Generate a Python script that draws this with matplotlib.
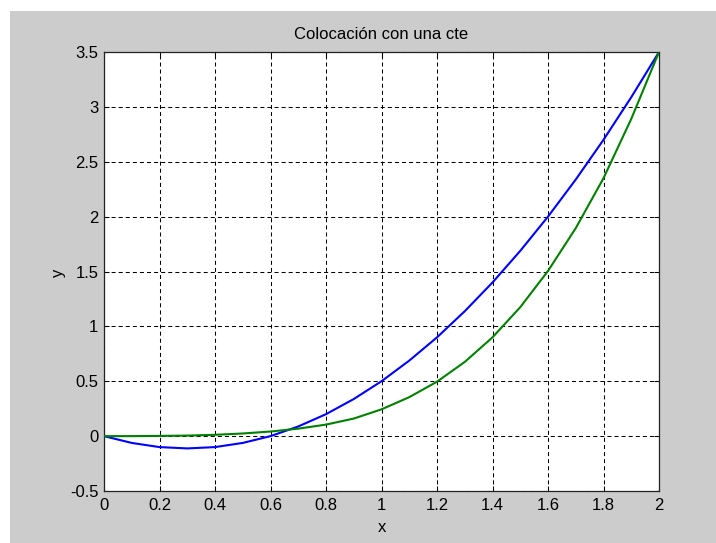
import matplotlib
matplotlib.use("Agg")
import matplotlib.pyplot as plt
from matplotlib.patches import Rectangle

plt.rcParams['font.family'] = ['Liberation Sans', 'DejaVu Sans']
plt.rcParams['lines.scale_dashes'] = False

# ---- data ----
x_vals = [0.0, 0.1, 0.2, 0.3, 0.4, 0.5, 0.6, 0.7, 0.8, 0.9, 1.0,
          1.1, 1.2, 1.3, 1.4, 1.5, 1.6, 1.7, 1.8, 1.9, 2.0]
y_blue = [0.0, -0.062, -0.100, -0.112, -0.100, -0.062, 0.0, 0.088, 0.200, 0.338, 0.500,
          0.688, 0.900, 1.138, 1.400, 1.688, 2.000, 2.338, 2.700, 3.088, 3.500]
y_green = [0.0, 0.000, 0.002, 0.005, 0.012, 0.024, 0.042, 0.068, 0.105, 0.160, 0.244,
           0.355, 0.496, 0.676, 0.900, 1.175, 1.505, 1.895, 2.350, 2.890, 3.500]

xticks = [0, 0.2, 0.4, 0.6, 0.8, 1.0, 1.2, 1.4, 1.6, 1.8, 2.0]
xtick_labels = ['0', '0.2', '0.4', '0.6', '0.8', '1', '1.2', '1.4', '1.6', '1.8', '2']
yticks = [-0.5, 0, 0.5, 1.0, 1.5, 2.0, 2.5, 3.0, 3.5]
ytick_labels = ['-0.5', '0', '0.5', '1', '1.5', '2', '2.5', '3', '3.5']

title_text = 'Colocación con una cte'
xlabel_text = 'x'
ylabel_text = 'y'

# ---- figure ----
W, H = 716, 543
fig = plt.figure(figsize=(W / 100, H / 100), dpi=100)
fig.patch.set_facecolor('white')
fig.add_artist(Rectangle((10 / W, 0), 1, (H - 11) / H, transform=fig.transFigure,
                         facecolor='#cccccc', edgecolor='none', zorder=-1))

ax_l, ax_r, ax_t, ax_b = 104, 659, 52, 491
ax = fig.add_axes([ax_l / W, (H - ax_b) / H, (ax_r - ax_l) / W, (ax_b - ax_t) / H])
ax.set_facecolor('white')

ax.plot(x_vals, y_blue, color='#0000ff', lw=1.5, zorder=3)
ax.plot(x_vals, y_green, color='#008000', lw=1.5, zorder=3)

ax.set_xlim(0, 2)
ax.set_ylim(-0.5, 3.5)
ax.set_xticks(xticks)
ax.set_xticklabels(xtick_labels)
ax.set_yticks(yticks)
ax.set_yticklabels(ytick_labels)

ax.grid(True, color='black', lw=0.75, linestyle=(0, (2.9, 2.2)))
ax.set_axisbelow(True)

ax.tick_params(direction='in', length=3.8, width=0.75, colors='black',
               top=True, right=True, labelsize=12)
ax.tick_params(axis='x', pad=5)
ax.tick_params(axis='y', pad=4)
for s in ax.spines.values():
    s.set_linewidth(0.9)
    s.set_color('#222222')

ax.set_title(title_text, fontsize=12, pad=9.4, color='black')
ax.set_xlabel(xlabel_text, fontsize=12)
ax.set_ylabel(ylabel_text, fontsize=12)
ax.xaxis.set_label_coords(0.5, (ax_b - 520) / (ax_b - ax_t))
ax.yaxis.set_label_coords((66 - ax_l) / (ax_r - ax_l), (ax_b - 273) / (ax_b - ax_t))

fig.savefig('out.png', dpi=100, facecolor=fig.get_facecolor())
